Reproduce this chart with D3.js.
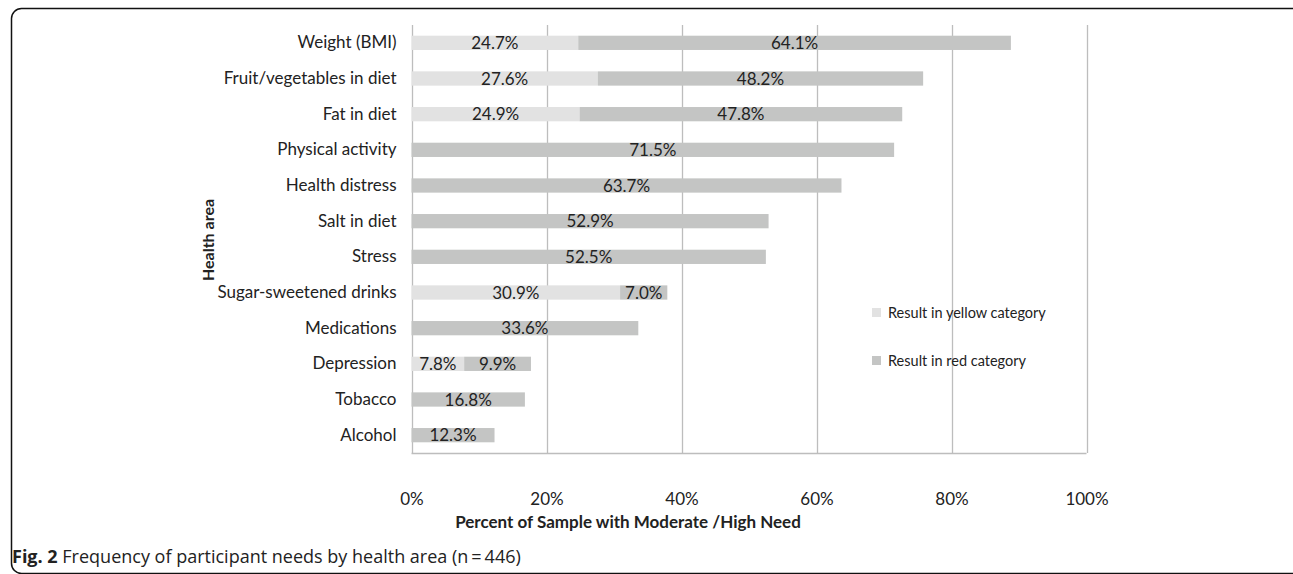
<!DOCTYPE html>
<html>
<head>
<meta charset="utf-8">
<script src="https://cdn.jsdelivr.net/npm/d3@7"></script>
<style>
  body { margin: 0; background: #fff; }
  svg text { font-family: Lato, "Open Sans", sans-serif; fill: #222; }
</style>
</head>
<body>
<div id="chart"></div>
<script>
// chart data
var categories = ["Weight (BMI)", "Fruit/vegetables in diet", "Fat in diet", "Physical activity",
  "Health distress", "Salt in diet", "Stress", "Sugar-sweetened drinks", "Medications",
  "Depression", "Tobacco", "Alcohol"];
var yellowValues = [24.7, 27.6, 24.9, 0, 0, 0, 0, 30.9, 0, 7.8, 0, 0];
var redValues = [64.1, 48.2, 47.8, 71.5, 63.7, 52.9, 52.5, 7.0, 33.6, 9.9, 16.8, 12.3];
var xTicks = [0, 20, 40, 60, 80, 100];
var seriesNames = ["Result in yellow category", "Result in red category"];

var width = 1293,
    height = 574,
    margin = {top: 25, left: 411.5, right: 1293 - 1086.5, bottom: 574 - 453};

var colors = ["#e2e2e2", "#c4c5c4"];

var svg = d3.select("#chart").append("svg")
    .attr("width", width)
    .attr("height", height);

// frame round the figure
svg.append("rect")
    .attr("x", 11.5).attr("y", 8.5)
    .attr("width", 1290).attr("height", 565)
    .attr("rx", 10).attr("ry", 10)
    .attr("fill", "none")
    .attr("stroke", "#111")
    .attr("stroke-width", 1.5);

var x = d3.scaleLinear()
    .domain([0, 100])
    .range([margin.left, width - margin.right]);

var y = d3.scaleBand()
    .domain(categories)
    .range([margin.top, height - margin.bottom])
    .paddingInner(0.6)
    .paddingOuter(0.3);

// gridlines
svg.append("g")
  .selectAll("line")
  .data(xTicks)
  .enter().append("line")
    .attr("x1", function(d) { return Math.round(x(d)) + 0.5; })
    .attr("x2", function(d) { return Math.round(x(d)) + 0.5; })
    .attr("y1", margin.top)
    .attr("y2", height - margin.bottom)
    .attr("stroke", "#bdbdbd")
    .attr("stroke-width", 1.3);

// baseline at the bottom
svg.append("line")
    .attr("x1", x(0)).attr("x2", x(100))
    .attr("y1", height - margin.bottom + 0.5).attr("y2", height - margin.bottom + 0.5)
    .attr("stroke", "#bdbdbd")
    .attr("stroke-width", 1.3);

// stacked segments
var rows = categories.map(function(c, i) {
  return {cat: c, parts: [
    {s: 0, x0: 0, x1: yellowValues[i], v: yellowValues[i]},
    {s: 1, x0: yellowValues[i], x1: yellowValues[i] + redValues[i], v: redValues[i]}
  ]};
});

var row = svg.append("g").selectAll("g")
    .data(rows)
  .enter().append("g");

var seg = row.selectAll("g")
    .data(function(d) { return d.parts.filter(function(p) { return p.v > 0; })
      .map(function(p) { p.cat = d.cat; return p; }); })
  .enter().append("g");

seg.append("rect")
    .attr("x", function(d) { return x(d.x0); })
    .attr("width", function(d) { return x(d.x1) - x(d.x0); })
    .attr("y", function(d) { return y(d.cat); })
    .attr("height", y.bandwidth())
    .attr("fill", function(d) { return colors[d.s]; });

seg.append("text")
    .attr("x", function(d) { return (x(d.x0) + x(d.x1)) / 2; })
    .attr("y", function(d) { return y(d.cat) + y.bandwidth() / 2; })
    .attr("dy", "0.36em")
    .attr("text-anchor", "middle")
    .style("font-size", "17px")
    .text(function(d) { return d.v.toFixed(1) + "%"; });

// category axis
var yAxis = svg.append("g")
    .attr("transform", "translate(" + (margin.left - 15) + ",0)")
    .call(d3.axisLeft(y).tickSize(0).tickPadding(0));
yAxis.select(".domain").remove();
yAxis.selectAll("text").style("font-size", "17px").attr("fill", "#222");

// value axis
var xAxis = svg.append("g")
    .attr("transform", "translate(0," + 505 + ")")
    .call(d3.axisBottom(x).tickValues(xTicks).tickSize(0).tickPadding(0)
      .tickFormat(function(d) { return d + "%"; }));
xAxis.select(".domain").remove();
xAxis.selectAll("text").style("font-size", "17px").attr("fill", "#222").attr("dy", "0");

// axis titles
svg.append("text")
    .attr("x", 628).attr("y", 528)
    .attr("text-anchor", "middle")
    .style("font-size", "17px")
    .style("font-weight", "bold")
    .text("Percent of Sample with Moderate /High Need");

svg.append("text")
    .attr("transform", "translate(214,240) rotate(-90)")
    .attr("text-anchor", "middle")
    .style("font-size", "16px")
    .style("font-weight", "bold")
    .text("Health area");

// legend
var legend = svg.append("g").selectAll("g")
    .data(seriesNames)
  .enter().append("g")
    .attr("transform", function(d, i) { return "translate(872," + (313 + i * 48) + ")"; });

legend.append("rect")
    .attr("x", 0).attr("y", -5)
    .attr("width", 9).attr("height", 9)
    .attr("fill", function(d, i) { return colors[i]; });

legend.append("text")
    .attr("x", 16).attr("y", 0)
    .attr("dy", "0.36em")
    .style("font-size", "14.5px")
    .text(function(d) { return d; });

// caption
var cap = svg.append("text")
    .attr("x", 12).attr("y", 563)
    .style("font-family", "'Open Sans', sans-serif")
    .style("font-size", "18px")
    .attr("fill", "#333");
cap.append("tspan").style("font-weight", "bold").text("Fig. 2");
cap.append("tspan").text(" Frequency of participant needs by health area (n\u2009=\u2009446)");
</script>
</body>
</html>
